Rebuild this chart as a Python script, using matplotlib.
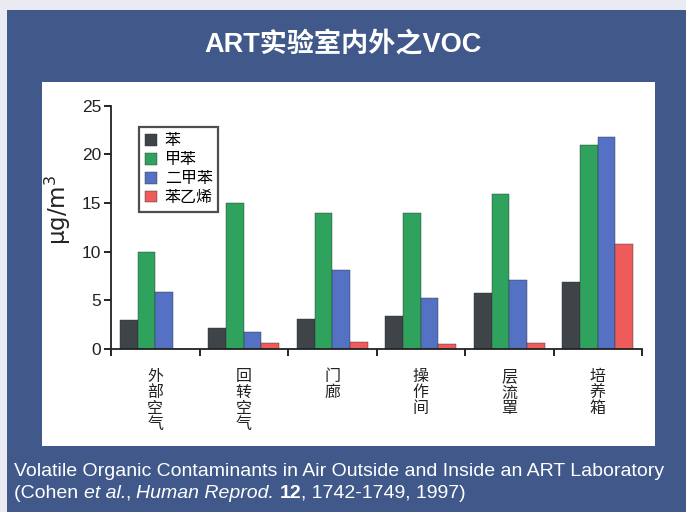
import numpy as np
import matplotlib
matplotlib.use("Agg")
import matplotlib.pyplot as plt
from matplotlib.patches import Rectangle

plt.rcParams['font.family'] = ['Liberation Sans', 'Noto Sans CJK SC', 'DejaVu Sans']

# 数据
categories = ["外部空气", "回转空气", "门廊", "操作间", "层流罩", "培养箱"]
series_names = ["苯", "甲苯", "二甲苯", "苯乙烯"]
benzene = [3.0, 2.2, 3.1, 3.35, 5.75, 6.9]
toluene = [10.0, 15.0, 14.0, 14.0, 15.9, 20.9]
xylene = [5.85, 1.75, 8.1, 5.25, 7.1, 21.8]
styrene = [0.0, 0.65, 0.75, 0.5, 0.65, 10.8]
colors = ["#3f4448", "#2fa35e", "#5471c4", "#ef5b5b"]

bg_blue = "#40598a"
fig = plt.figure(figsize=(6.86, 5.12), dpi=100)
fig.patch.set_facecolor("#e9eaf2")

# 蓝色背景和白色面板
fig.add_artist(Rectangle((7 / 686, 0), 1, 1 - 10 / 512, transform=fig.transFigure,
                         facecolor=bg_blue, edgecolor="none", zorder=0))
fig.add_artist(Rectangle((42 / 686, 1 - 446 / 512), (655 - 42) / 686, (446 - 82) / 512,
                         transform=fig.transFigure, facecolor="white", edgecolor="none", zorder=0))

ax = fig.add_axes([111 / 686, 1 - 349 / 512, (642 - 111) / 686, (349 - 105.5) / 512])
ax.set_facecolor("none")

x = np.arange(len(categories))
w = 0.2
for i, (vals, name) in enumerate(zip([benzene, toluene, xylene, styrene], series_names)):
    ax.bar(x - 0.3 + i * w, vals, width=w, color=colors[i], label=name,
           edgecolor="#2b2f33", linewidth=0.3)

ax.set_xlim(-0.5, len(categories) - 0.5)
ax.set_ylim(0, 25)
ax.set_yticks([0, 5, 10, 15, 20, 25])
ax.tick_params(axis="y", labelsize=12.5, length=5, width=1.2, direction="out", pad=2,
               labelcolor="#222222")
ax.set_xticks(np.arange(-0.5, len(categories), 1.0))
ax.set_xticklabels([])
ax.tick_params(axis="x", length=5, width=1.2, direction="out")
for s in ["top", "right"]:
    ax.spines[s].set_visible(False)
for s in ["left", "bottom"]:
    ax.spines[s].set_linewidth(1.3)
    ax.spines[s].set_color("#222222")

for xi, c in zip(x, categories):
    ax.text(xi, -2.0, "\n".join(c), ha="center", va="top", fontsize=11.5,
            linespacing=0.92, multialignment="center",
            family=["Noto Sans CJK SC"], color="#222222")

ax.set_ylabel("μg/m$^3$", fontsize=16.5, labelpad=4, family=["DejaVu Sans"], color="#222222")
ax.yaxis.set_label_coords(-0.072, 0.57)

leg = ax.legend(loc="upper left", bbox_to_anchor=(0.038, 0.945),
                prop={"family": ["Noto Sans CJK SC"], "size": 11.5},
                handlelength=0.75, handleheight=0.75, handletextpad=0.5,
                labelspacing=0.12, borderpad=0.35, frameon=True, fancybox=False)
leg.get_frame().set_edgecolor("#222222")
leg.get_frame().set_linewidth(1.6)

fig.text(343 / 686, 1 - 45 / 512, "ART实验室内外之VOC", ha="center", va="center",
         fontsize=19.5, fontweight="bold", color="white",
         family=["Liberation Sans", "Noto Sans CJK SC"])

fig.text(14 / 686, 1 - 472 / 512,
         "Volatile Organic Contaminants in Air Outside and Inside an ART Laboratory",
         ha="left", va="center", fontsize=14, color="white")

# 第二行: 分段绘制 (斜体 / 粗体)
pieces = [("(Cohen ", "normal", "normal"), ("et al.", "italic", "normal"),
          (", ", "normal", "normal"), ("Human Reprod.", "italic", "normal"),
          (" ", "normal", "normal"), ("12", "normal", "bold"),
          (", 1742-1749, 1997)", "normal", "normal")]
renderer = fig.canvas.get_renderer()
xpos = 14
for txt, style, weight in pieces:
    t = fig.text(xpos / 686, 1 - 494 / 512, txt, ha="left", va="center", fontsize=14,
                 color="white", style=style, fontweight=weight)
    xpos += t.get_window_extent(renderer=renderer).width

fig.savefig("out.png", dpi=100, facecolor=fig.get_facecolor())
